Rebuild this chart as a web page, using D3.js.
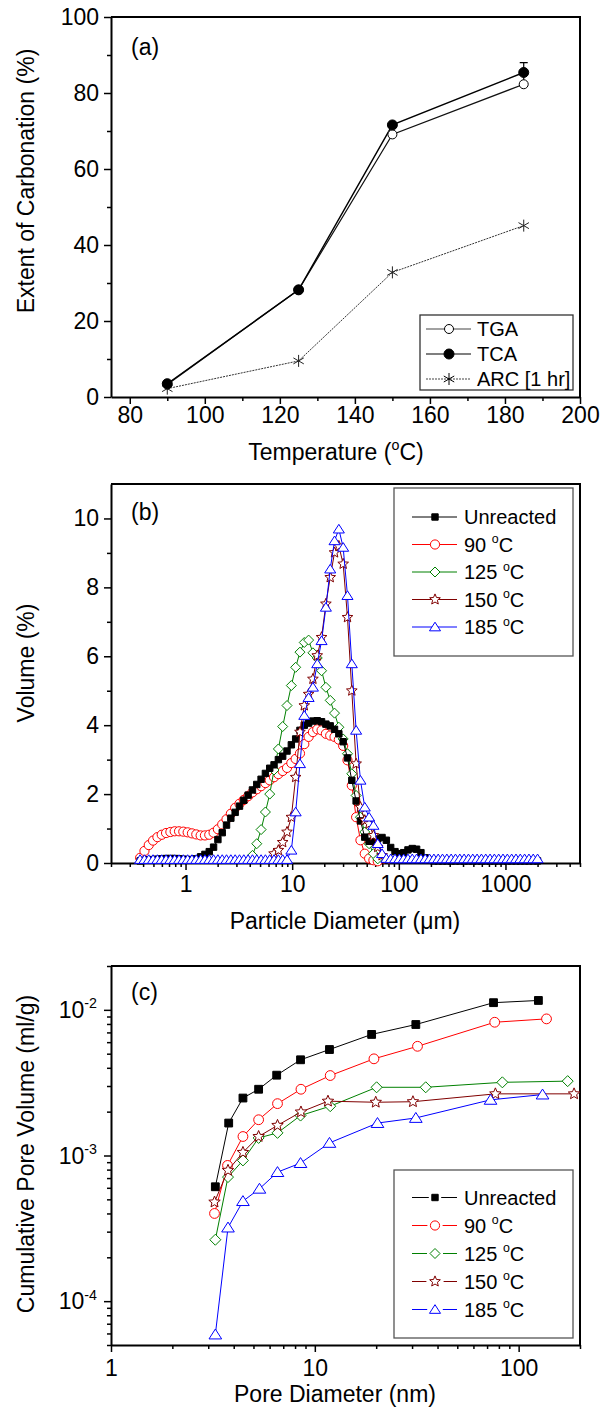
<!DOCTYPE html>
<html>
<head>
<meta charset="utf-8">
<script src="https://cdn.jsdelivr.net/npm/d3@7/dist/d3.min.js"></script>
<style>
  body { margin: 0; background: #fff; }
  svg { display: block; font-family: "Liberation Sans", Arial, Helvetica, sans-serif; }
</style>
</head>
<body>
<script>
/* carbonation figure: (a) extent vs temperature, (b) particle size, (c) pore volume */

//---- (a) extent of carbonation ----
var temps = [90, 125, 150, 185];
var tga = [3.3, 28.2, 69.1, 82.3];
var tca = [3.5, 28.2, 71.6, 85.4];
var tcaErr = [0, 0, 0, 2.6];
var arc = [2.2, 9.5, 32.8, 45.1];

//---- (b) particle size distribution (volume %) ----
var psdSizes = [0.375, 0.412, 0.452, 0.496, 0.545, 0.598, 0.657, 0.721, 0.791, 0.869,
  0.953, 1.047, 1.149, 1.261, 1.385, 1.520, 1.669, 1.832, 2.011, 2.208,
  2.423, 2.660, 2.920, 3.206, 3.519, 3.862, 4.240, 4.655, 5.110, 5.610,
  6.158, 6.760, 7.421, 8.147, 8.944, 9.819, 10.78, 11.83, 12.99, 14.26,
  15.65, 17.18, 18.86, 20.71, 22.73, 24.95, 27.39, 30.07, 33.01, 36.24,
  39.78, 43.67, 47.94, 52.63, 57.77, 63.42, 69.62, 76.43, 83.90, 92.10,
  101.1, 111.0, 121.8, 133.7, 146.8, 161.2, 176.8, 194.2, 213.2, 234.1,
  256.8, 282.1, 309.6, 339.9, 373.1, 409.6, 449.7, 493.6, 541.9, 594.9,
  653.0, 716.9, 786.9, 863.9, 948.3, 1041, 1143, 1255, 1377, 1512,
  1660, 1822, 2000];
var psdUnreacted = [0.06, 0.08, 0.09, 0.10, 0.11, 0.12, 0.13, 0.13, 0.13, 0.12,
  0.11, 0.10, 0.10, 0.12, 0.18, 0.25, 0.33, 0.46, 0.68, 0.88,
  1.10, 1.30, 1.47, 1.65, 1.82, 1.97, 2.12, 2.28, 2.43, 2.60,
  2.75, 2.85, 3.00, 3.10, 3.25, 3.43, 3.60, 3.85, 4.00, 4.06,
  4.12, 4.13, 4.10, 4.03, 3.98, 3.88, 3.75, 3.52, 3.05, 2.40,
  1.80, 1.22, 0.75, 0.63, 0.63, 0.70, 0.74, 0.66, 0.45, 0.33,
  0.27, 0.30, 0.38, 0.42, 0.40, 0.30, 0.15, 0.08, 0.06, 0.06,
  0.06, 0.06, 0.06, 0.06, 0.06, 0.06, 0.06, 0.06, 0.06, 0.06,
  0.06, 0.06, 0.06, 0.06, 0.06, 0.06, 0.06, 0.06, 0.06, 0.06,
  0.06, 0.06, 0.06];
var psd90 = [0.15, 0.35, 0.52, 0.65, 0.75, 0.82, 0.87, 0.90, 0.92, 0.92,
  0.91, 0.89, 0.86, 0.83, 0.80, 0.80, 0.82, 0.88, 0.98, 1.12,
  1.27, 1.43, 1.60, 1.72, 1.83, 1.94, 2.05, 2.14, 2.23, 2.32,
  2.40, 2.49, 2.58, 2.67, 2.76, 2.90, 3.02, 3.18, 3.45, 3.66,
  3.80, 3.88, 3.85, 3.75, 3.70, 3.66, 3.58, 3.40, 2.98, 2.25,
  1.33, 0.66, 0.27, 0.13, 0.08, 0.05, null, null, null, null,
  null, null, null, null, null, null, null, null, null, null,
  null, null, null, null, null, null, null, null, null, null,
  null, null, null, null, null, null, null, null, null, null,
  null, null, null];
var psd125 = [null, null, null, null, null, null, null, null, null, null,
  null, null, null, null, null, null, null, null, null, null,
  null, null, null, null, null, null, 0.22, 0.56, 0.97, 1.48,
  2.00, 2.70, 3.31, 3.96, 4.57, 5.15, 5.68, 6.12, 6.40, 6.47,
  6.10, 5.95, 5.58, 5.10, 4.72, 4.35, 3.94, 3.60, 3.17, 2.59,
  1.96, 1.33, 0.90, 0.56, 0.27, 0.12, null, null, null, null,
  null, null, null, null, null, null, null, null, null, null,
  null, null, null, null, null, null, null, null, null, null,
  null, null, null, null, null, null, null, null, null, null,
  null, null, null];
var psd150 = [null, null, null, null, null, null, null, null, null, null,
  null, null, null, null, null, null, null, null, null, null,
  null, null, null, null, null, null, null, null, null, null,
  null, 0.27, 0.37, 0.60, 0.90, 1.33, 2.49, 3.80, 4.57, 4.90,
  5.34, 6.02, 6.55, 7.52, 8.29, 9.01, 9.20, 8.68, 7.13, 5.00,
  2.88, 1.62, 1.24, 1.14, 0.80, 0.46, 0.22, 0.10, null, null,
  null, null, null, null, null, null, null, null, null, null,
  null, null, null, null, null, null, null, null, null, null,
  null, null, null, null, null, null, null, null, null, null,
  null, null, null];
var psd185 = [0.10, 0.10, 0.10, 0.10, 0.10, 0.10, 0.10, 0.10, 0.10, 0.10,
  0.10, 0.10, 0.10, 0.10, 0.10, 0.10, 0.10, 0.10, 0.10, 0.10,
  0.10, 0.10, 0.10, 0.10, 0.10, 0.10, 0.10, 0.10, 0.10, 0.10,
  0.10, 0.10, 0.10, 0.10, 0.10, 0.37, 1.48, 2.88, 4.28, 4.80,
  5.10, 5.78, 6.45, 7.42, 8.53, 9.35, 9.69, 9.16, 7.76, 5.78,
  3.85, 2.40, 1.62, 1.33, 1.09, 0.56, 0.27, 0.13, 0.12, 0.12,
  0.12, 0.12, 0.12, 0.12, 0.12, 0.12, 0.12, 0.12, 0.12, 0.12,
  0.12, 0.12, 0.12, 0.12, 0.12, 0.12, 0.12, 0.12, 0.12, 0.12,
  0.12, 0.12, 0.12, 0.12, 0.12, 0.12, 0.12, 0.12, 0.12, 0.12,
  0.12, 0.12, 0.12];

//---- (c) cumulative pore volume (ml/g) vs pore diameter (nm) ----
var poreDiaUnreacted = [3.25, 3.78, 4.44, 5.30, 6.50, 8.51, 11.8, 19.0, 31.3, 75.3, 125];
var poreVolUnreacted = [6.1e-4, 1.67e-3, 2.48e-3, 2.85e-3, 3.56e-3, 4.54e-3, 5.34e-3, 6.78e-3, 7.93e-3, 1.12e-2, 1.16e-2];
var poreDia90 = [3.22, 3.73, 4.44, 5.30, 6.56, 8.55, 11.9, 19.5, 31.9, 76.3, 137];
var poreVol90 = [4.0e-4, 8.55e-4, 1.35e-3, 1.76e-3, 2.27e-3, 2.85e-3, 3.54e-3, 4.61e-3, 5.62e-3, 8.22e-3, 8.67e-3];
var poreDia125 = [3.25, 3.75, 4.44, 5.30, 6.56, 8.51, 11.9, 20.1, 35.0, 83.2, 174];
var poreVol125 = [2.64e-4, 7.11e-4, 9.25e-4, 1.32e-3, 1.43e-3, 1.88e-3, 2.18e-3, 2.94e-3, 2.94e-3, 3.18e-3, 3.24e-3];
var poreDia150 = [3.22, 3.75, 4.44, 5.30, 6.56, 8.55, 11.6, 19.9, 30.3, 76.9, 187];
var poreVol150 = [4.79e-4, 7.91e-4, 1.05e-3, 1.35e-3, 1.61e-3, 1.99e-3, 2.36e-3, 2.32e-3, 2.34e-3, 2.65e-3, 2.65e-3];
var poreDia185 = [3.25, 3.75, 4.44, 5.35, 6.56, 8.51, 11.8, 20.3, 31.3, 72.8, 131];
var poreVol185 = [5.9e-5, 3.2e-4, 4.86e-4, 5.91e-4, 7.69e-4, 8.87e-4, 1.22e-3, 1.67e-3, 1.81e-3, 2.41e-3, 2.62e-3];

// series shared by (b) and (c)
var seriesNames = ["Unreacted", "90", "125", "150", "185"];
var seriesColors = ["#000000", "#ff0000", "#008000", "#800000", "#0000ff"];
var seriesShapes = ["square", "circle", "diamond", "star", "triangle"];

var W = 603, H = 1412;
var plotL = 111, plotR = 580;
var FS = 23, LFS = 20;

var svg = d3.select("body").append("svg")
  .attr("width", W)
  .attr("height", H);

//marker outlines centred on 0,0
function shape(type, s){
  if(type == "circle") return "M"+s+",0A"+s+","+s+" 0 1,1 "+(-s)+",0A"+s+","+s+" 0 1,1 "+s+",0Z";
  if(type == "square") return "M"+(-s)+","+(-s)+"H"+s+"V"+s+"H"+(-s)+"Z";
  if(type == "diamond") return "M0,"+(-s)+"L"+s+",0L0,"+s+"L"+(-s)+",0Z";
  if(type == "triangle") return "M0,"+(-s)+"L"+(s*1.15)+","+(s*0.8)+"L"+(-s*1.15)+","+(s*0.8)+"Z";
  if(type == "star"){
    var p = [];
    for(var i = 0; i < 10; i++){
      var a = (-90 + 36*i) * Math.PI/180, r = (i % 2 ? s*0.45 : s);
      p.push((r*Math.cos(a)).toFixed(2)+","+(r*Math.sin(a)).toFixed(2));
    }
    return "M"+p.join("L")+"Z";
  }
  if(type == "asterisk"){
    var d = "M0,"+(-s)+"V"+s;
    d += "M"+(-s*0.87)+","+(-s*0.5)+"L"+(s*0.87)+","+(s*0.5);
    d += "M"+(-s*0.87)+","+(s*0.5)+"L"+(s*0.87)+","+(-s*0.5);
    return d;
  }
}

function markerSize(type, panel){
  var b = {square: 3.2, circle: 4.6, diamond: 5, star: 5.6, triangle: 4.8};
  var c = {square: 3.9, circle: 4.9, diamond: 5.5, star: 6, triangle: 5.5};
  return panel == "b" ? b[type] : c[type];
}

function drawMarker(g, type, s, x, y, color, filled){
  g.append("path")
    .attr("d", shape(type, s))
    .attr("transform", "translate(" + x + "," + y + ")")
    .attr("fill", filled ? color : (type == "asterisk" ? "none" : "#fff"))
    .attr("stroke", color)
    .attr("stroke-width", 1);
}

//text with superscript pieces: parts = [[str, isSup], ...]
function richText(t, parts, fs){
  var up = false;
  parts.forEach(function(p){
    var ts = t.append("tspan").text(p[0]);
    if(p[1] && !up){ ts.attr("font-size", fs*0.62).attr("dy", -fs*0.42); up = true; }
    else if(!p[1] && up){ ts.attr("font-size", fs).attr("dy", fs*0.42); up = false; }
  });
  return t;
}

//frame + ticks for one panel
function axes(opt){
  var g = svg.append("g");
  var xa = d3.axisBottom(opt.x).tickValues(opt.xMajor).tickSize(7).tickSizeOuter(0)
    .tickPadding(opt.xPad).tickFormat(opt.xFmt);
  g.append("g").attr("transform", "translate(0," + opt.bot + ")").call(xa);
  var gxm = g.append("g").attr("transform", "translate(0," + opt.bot + ")")
    .call(d3.axisBottom(opt.x).tickValues(opt.xMinor).tickSize(4).tickFormat(""));
  gxm.select(".domain").remove();

  var ya = d3.axisLeft(opt.y).tickValues(opt.yMajor).tickSize(7).tickSizeOuter(0)
    .tickPadding(5).tickFormat(opt.yFmt);
  g.append("g").attr("transform", "translate(" + plotL + ",0)").call(ya);
  var gym = g.append("g").attr("transform", "translate(" + plotL + ",0)")
    .call(d3.axisLeft(opt.y).tickValues(opt.yMinor).tickSize(4).tickFormat(""));
  gym.select(".domain").remove();

  g.selectAll(".domain").attr("stroke", "#000").attr("stroke-width", 2);
  g.selectAll(".tick line").attr("stroke", "#000").attr("stroke-width", 1.5);
  g.selectAll("text").attr("font-size", FS).attr("font-family", null).attr("fill", "#000");

  //top and right edges
  g.append("path")
    .attr("d", "M" + plotL + "," + opt.top + "H" + plotR + "V" + opt.bot)
    .attr("fill", "none").attr("stroke", "#000").attr("stroke-width", 2);
  return g;
}

function yTitle(cy, parts){
  var t = svg.append("text")
    .attr("transform", "translate(34," + cy + ") rotate(-90)")
    .attr("text-anchor", "middle")
    .attr("font-size", FS);
  richText(t, parts, FS);
}

function xTitle(cx, y, parts){
  var t = svg.append("text")
    .attr("x", cx).attr("y", y)
    .attr("text-anchor", "middle")
    .attr("font-size", FS);
  richText(t, parts, FS);
}

function panelTag(y, s){
  svg.append("text").attr("x", 131).attr("y", y).attr("font-size", FS).text(s);
}

//================ (a) ================
var aTop = 17, aBot = 397;
var xA = d3.scaleLinear().domain([75, 200]).range([plotL, plotR]);
var yA = d3.scaleLinear().domain([0, 100]).range([aBot, aTop]);

axes({x: xA, y: yA, top: aTop, bot: aBot, xPad: 3,
  xMajor: [80, 100, 120, 140, 160, 180, 200], xMinor: [90, 110, 130, 150, 170, 190],
  yMajor: [0, 20, 40, 60, 80, 100], yMinor: [10, 30, 50, 70, 90],
  xFmt: d3.format("d"), yFmt: d3.format("d")});

var line = d3.line();
var ptsA = function(vals){ return temps.map(function(t, i){ return [xA(t), yA(vals[i])]; }); };

var gA = svg.append("g");
gA.append("path").attr("d", line(ptsA(arc))).attr("fill", "none")
  .attr("stroke", "#333").attr("stroke-width", 1).attr("stroke-dasharray", "2,1");
gA.append("path").attr("d", line(ptsA(tga))).attr("fill", "none")
  .attr("stroke", "#111").attr("stroke-width", 1.2);
gA.append("path").attr("d", line(ptsA(tca))).attr("fill", "none")
  .attr("stroke", "#000").attr("stroke-width", 1.4);

//error bars on TCA
temps.forEach(function(t, i){
  if(!tcaErr[i]) return;
  var x = xA(t), y1 = yA(tca[i] + tcaErr[i]), y0 = yA(tca[i] - tcaErr[i]);
  gA.append("path").attr("d", "M" + x + "," + y0 + "V" + y1 + "M" + (x-4) + "," + y1 + "H" + (x+4))
    .attr("stroke", "#000").attr("stroke-width", 1.2).attr("fill", "none");
});
temps.forEach(function(t, i){
  drawMarker(gA, "asterisk", 6, xA(t), yA(arc[i]), "#222", false);
  drawMarker(gA, "circle", 4.5, xA(t), yA(tga[i]), "#000", false);
  drawMarker(gA, "circle", 5, xA(t), yA(tca[i]), "#000", true);
});

panelTag(55, "(a)");
yTitle(181, [["Extent of Carbonation (%)", false]]);
xTitle(336, 460, [["Temperature (", false], ["o", true], ["C)", false]]);

//legend (a)
var legA = svg.append("g");
legA.append("rect").attr("x", 420).attr("y", 315).attr("width", 153).attr("height", 75)
  .attr("fill", "#fff").attr("stroke", "#333").attr("stroke-width", 1.3);
[["TGA", "circle", false, "#444", null], ["TCA", "circle", true, "#000", null],
 ["ARC [1 hr]", "asterisk", false, "#444", "2,1"]].forEach(function(e, i){
  var y = 329 + i*25;
  legA.append("line").attr("x1", 426).attr("x2", 471).attr("y1", y).attr("y2", y)
    .attr("stroke", e[3]).attr("stroke-width", 1.2).attr("stroke-dasharray", e[4]);
  drawMarker(legA, e[1], e[1] == "asterisk" ? 6 : (e[2] ? 5 : 4.5), 449, y, "#000", e[2]);
  legA.append("text").attr("x", 477).attr("y", y).attr("dy", "0.36em")
    .attr("font-size", LFS).text(e[0]);
});

//================ (b) ================
var bTop = 484, bBot = 863;
var xB = d3.scaleLog().domain([0.2, 5000]).range([plotL, plotR]);
var yB = d3.scaleLinear().domain([0, 11]).range([bBot, bTop]);

var logMinor = function(lo, hi){
  var out = [];
  for(var e = -1; e <= 4; e++) for(var m = 2; m <= 9; m++){
    var v = m * Math.pow(10, e);
    if(v >= lo*0.999 && v <= hi*1.001) out.push(v);
  }
  return out;
};

axes({x: xB, y: yB, top: bTop, bot: bBot, xPad: 6,
  xMajor: [1, 10, 100, 1000], xMinor: logMinor(0.2, 5000),
  yMajor: [0, 2, 4, 6, 8, 10], yMinor: [1, 3, 5, 7, 9],
  xFmt: d3.format("d"), yFmt: d3.format("d")});

var psdSeries = [psdUnreacted, psd90, psd125, psd150, psd185];
var drawOrderB = [1, 2, 0, 3, 4];
var lineB = d3.line().x(function(d){ return xB(d.x); }).y(function(d){ return yB(d.y); });
var gB = svg.append("g");
drawOrderB.forEach(function(k){
  var pts = psdSizes.map(function(s, i){ return {x: s, y: psdSeries[k][i]}; })
    .filter(function(d){ return d.y != null; });
  gB.append("path").attr("d", lineB(pts)).attr("fill", "none")
    .attr("stroke", seriesColors[k]).attr("stroke-width", 1);
  pts.forEach(function(d){
    drawMarker(gB, seriesShapes[k], markerSize(seriesShapes[k], "b"), xB(d.x), yB(d.y),
      seriesColors[k], seriesShapes[k] == "square");
  });
});

panelTag(520, "(b)");
yTitle(663, [["Volume (%)", false]]);
xTitle(345, 929, [["Particle Diameter (\u03bcm)", false]]);

function legend(x0, y0, h, y1, step, gap, panel){
  var lg = svg.append("g");
  lg.append("rect").attr("x", x0).attr("y", y0).attr("width", 179).attr("height", h)
    .attr("fill", "#fff").attr("stroke", "#555").attr("stroke-width", 1.3);
  seriesNames.forEach(function(n, k){
    var y = y1 + k*step, s = markerSize(seriesShapes[k], "b");
    if(gap){
      lg.append("path").attr("d", "M412," + y + "H" + (435 - s - 3) + "M" + (435 + s + 3) + "," + y + "H457")
        .attr("stroke", seriesColors[k]).attr("stroke-width", 1);
    } else {
      lg.append("line").attr("x1", 412).attr("x2", 457).attr("y1", y).attr("y2", y)
        .attr("stroke", seriesColors[k]).attr("stroke-width", 1);
    }
    drawMarker(lg, seriesShapes[k], s, 435, y, seriesColors[k], seriesShapes[k] == "square");
    var t = lg.append("text").attr("x", 464).attr("y", y).attr("dy", "0.36em").attr("font-size", LFS);
    if(k == 0) t.text(n);
    else richText(t, [[n + " ", false], ["o", true], ["C", false]], LFS);
  });
}
legend(394, 488, 168, 517, 27.5, false, "b");

//================ (c) ================
var cTop = 966, cBot = 1345;
var xC = d3.scaleLog().domain([1, 200]).range([plotL, plotR]);
var yC = d3.scaleLog().domain([5e-5, 2e-2]).range([cBot, cTop]);

var yMinorC = [];
[1e-5, 1e-4, 1e-3, 1e-2].forEach(function(dec){
  for(var m = 2; m <= 9; m++){
    var v = m * dec;
    if(v >= 5e-5*0.999 && v <= 2e-2*1.001) yMinorC.push(v);
  }
});

axes({x: xC, y: yC, top: cTop, bot: cBot, xPad: 8,
  xMajor: [1, 10, 100], xMinor: logMinor(1, 200),
  yMajor: [1e-4, 1e-3, 1e-2], yMinor: yMinorC,
  xFmt: d3.format("d"), yFmt: function(){ return ""; }});

//power-of-ten labels
[1e-4, 1e-3, 1e-2].forEach(function(v){
  var t = svg.append("text").attr("x", 97).attr("y", yC(v)).attr("dy", "0.36em")
    .attr("text-anchor", "end").attr("font-size", FS);
  richText(t, [["10", false], [String(Math.round(Math.log10(v))), true]], FS);
});

var poreDia = [poreDiaUnreacted, poreDia90, poreDia125, poreDia150, poreDia185];
var poreVol = [poreVolUnreacted, poreVol90, poreVol125, poreVol150, poreVol185];
var gCS = svg.append("g");
[0, 1, 2, 3, 4].forEach(function(k){
  var pts = poreDia[k].map(function(d, i){ return [xC(d), yC(poreVol[k][i])]; });
  gCS.append("path").attr("d", d3.line()(pts)).attr("fill", "none")
    .attr("stroke", seriesColors[k]).attr("stroke-width", 1);
  pts.forEach(function(p){
    drawMarker(gCS, seriesShapes[k], markerSize(seriesShapes[k], "c"), p[0], p[1],
      seriesColors[k], seriesShapes[k] == "square");
  });
});

panelTag(1000, "(c)");
yTitle(1154, [["Cumulative Pore Volume (ml/g)", false]]);
xTitle(335, 1402, [["Pore Diameter (nm)", false]]);
legend(394, 1170, 168, 1197.5, 28, true, "c");
</script>
</body>
</html>
